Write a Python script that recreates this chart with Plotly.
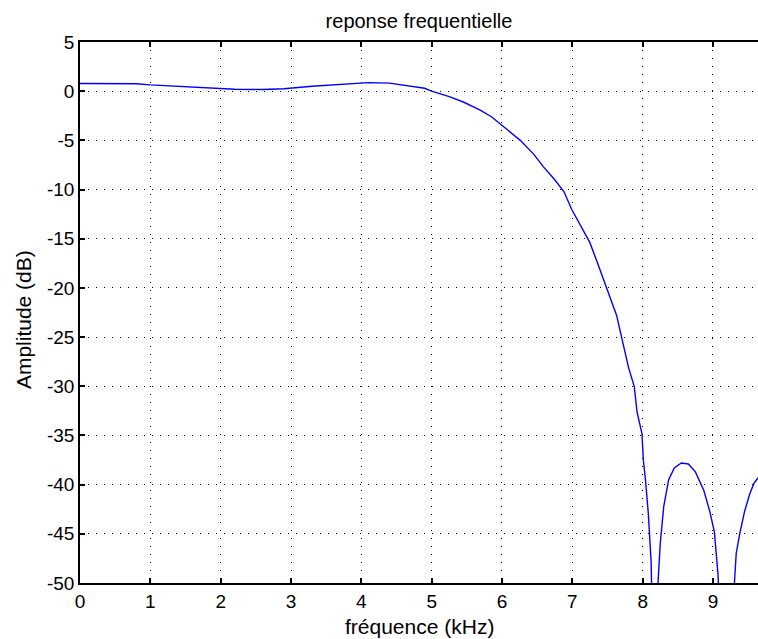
"""Frequency response plot (MATLAB style) rebuilt with Plotly."""
import plotly.graph_objects as go

freq_khz = [0.0, 0.4, 0.8, 1.0, 1.4, 1.8, 2.2, 2.6, 2.9, 3.3, 3.7, 4.1, 4.4,
            4.7, 4.9, 5.0, 5.25, 5.45, 5.69, 5.85, 6.02, 6.15, 6.26, 6.45,
            6.59, 6.75, 6.88, 6.99, 7.14, 7.25, 7.37, 7.49, 7.63, 7.70, 7.80,
            7.88, 7.92, 7.99, 8.01, 8.04, 8.08, 8.12, 8.17,
            8.22, 8.25, 8.3, 8.37, 8.45, 8.55, 8.65, 8.75, 8.87, 8.95, 9.02,
            9.07, 9.18, 9.3, 9.33, 9.38, 9.45, 9.52, 9.58, 9.64]
amp_db = [0.78, 0.78, 0.76, 0.64, 0.5, 0.32, 0.2, 0.17, 0.25, 0.5, 0.7, 0.87,
          0.82, 0.55, 0.3, 0.0, -0.55, -1.1, -1.93, -2.6, -3.6, -4.3, -5.0,
          -6.4, -7.7, -9.0, -10.2, -12.0, -14.0, -15.4, -17.7, -20.0, -22.8,
          -25.0, -28.1, -30.0, -32.6, -34.8, -37.5, -39.5, -42.9, -47.8,
          -65.0, -49.8, -46.0, -42.2, -39.5, -38.3, -37.8, -37.9, -38.7,
          -40.6, -42.6, -44.8, -49.0, -65.0, -49.9, -47.0, -45.0, -42.7,
          -41.0, -39.9, -39.3]

x_ticks = list(range(0, 10))
y_ticks = list(range(-50, 6, 5))

FONT = "Liberation Sans, Arial, Helvetica, sans-serif"

fig = go.Figure()
fig.add_trace(go.Scatter(
    x=freq_khz,
    y=amp_db,
    mode="lines",
    line=dict(color="#0000ff", width=1.4),
    showlegend=False,
))

axis_common = dict(
    showline=True,
    linecolor="black",
    linewidth=1.5,
    ticks="inside",
    ticklen=5,
    tickwidth=1.5,
    tickcolor="black",
    showgrid=True,
    gridcolor="black",
    gridwidth=1,
    griddash="1px,7px",
    zeroline=False,
    automargin=False,
    tickfont=dict(family=FONT, size=19, color="black"),
)

fig.update_xaxes(
    range=[0, 9.64],
    tickvals=x_ticks,
    ticktext=[str(v) for v in x_ticks],
    mirror="ticks",
    **axis_common,
)
fig.update_yaxes(
    range=[-50, 5],
    tickvals=y_ticks,
    ticktext=[str(v) for v in y_ticks],  # plain hyphen like MATLAB
    **axis_common,
)

# axis titles as annotations so they sit where the reference has them
fig.add_annotation(text="fréquence (kHz)", xref="paper", yref="paper",
                   x=0.5, y=-0.081, xanchor="center", yanchor="middle",
                   showarrow=False, font=dict(family=FONT, size=21, color="black"))
fig.add_annotation(text="Amplitude (dB)", xref="paper", yref="paper",
                   x=-0.084, y=0.486, xanchor="center", yanchor="middle",
                   textangle=-90, showarrow=False,
                   font=dict(family=FONT, size=21, color="black"))

fig.update_layout(
    title=dict(text="reponse frequentielle", x=0.5, xref="paper", xanchor="center",
               y=1, yref="container", yanchor="top", pad=dict(t=14),
               font=dict(family=FONT, size=20, color="black")),
    width=758,
    height=639,
    margin=dict(l=80, r=0, t=42, b=56),
    paper_bgcolor="white",
    plot_bgcolor="white",
)

# drop the default 8px body margin so the figure fills the window exactly
fig.write_html("out.html",
               config={"displayModeBar": False},
               post_script="document.body.style.margin='0';"
                           "document.body.style.overflow='hidden';")
